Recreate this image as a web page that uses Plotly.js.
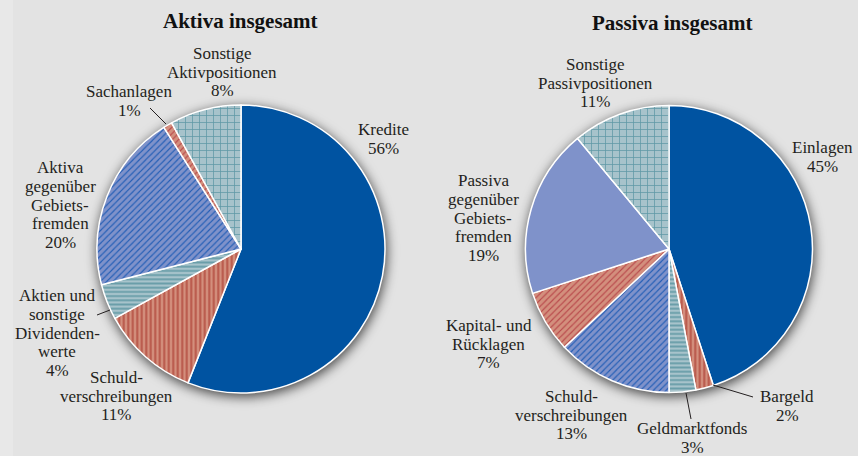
<!DOCTYPE html>
<html>
<head>
<meta charset="utf-8">
<script src="https://cdn.plot.ly/plotly-3.0.1.min.js"></script>
<style>
html,body{margin:0;padding:0;background:#e3e3e3;}
#chart{width:858px;height:456px;}
</style>
</head>
<body>
<svg width="0" height="0" style="position:absolute">
  <defs>
    <filter id="pieshadow" x="-25%" y="-25%" width="150%" height="150%" color-interpolation-filters="sRGB">
      <feGaussianBlur in="SourceAlpha" stdDeviation="6" result="blur"/>
      <feOffset in="blur" dx="1" dy="3" result="off"/>
      <feColorMatrix in="off" type="matrix" values="0 0 0 0 0  0 0 0 0 0  0 0 0 0 0  0 0 0 0.7 0" result="shadow"/>
      <feMerge><feMergeNode in="shadow"/><feMergeNode in="SourceGraphic"/></feMerge>
    </filter>
  </defs>
</svg>
<div id="chart"></div>
<script>
// ---- data ----
const aktivaLabels = ["Kredite", "Schuld-<br>verschreibungen", "Aktien und<br>sonstige<br>Dividenden-<br>werte", "Aktiva<br>gegenüber<br>Gebiets-<br>fremden", "Sachanlagen", "Sonstige<br>Aktivpositionen"];
const aktivaValues = [56, 11, 4, 20, 1, 8];
const passivaLabels = ["Einlagen", "Bargeld", "Geldmarktfonds", "Schuld-<br>verschreibungen", "Kapital- und<br>Rücklagen", "Passiva<br>gegenüber<br>Gebiets-<br>fremden", "Sonstige<br>Passivpositionen"];
const passivaValues = [45, 2, 3, 13, 7, 19, 11];
const titles = ["Aktiva insgesamt", "Passiva insgesamt"];

// ---- styles ----
const DARK = "#0053a1", PERI = "#7f92ca", SALMON = "#d38f7d", TEAL = "#a7c3cb";
const styleMap = {
  solid:   {bg: DARK,   fg: DARK,      shape: "",  size: 6,   sol: 0.3},
  vstripe: {bg: SALMON, fg: "#b8574a", shape: "|", size: 4.5, sol: 0.45},
  hstripe: {bg: TEAL,   fg: "#6a9ea9", shape: "-", size: 4.2, sol: 0.45},
  bdiag:   {bg: PERI,   fg: "#1f5cb5", shape: "/", size: 4.5, sol: 0.25},
  rdiag:   {bg: SALMON, fg: "#b8474a", shape: "/", size: 4.5, sol: 0.25},
  grid:    {bg: TEAL,   fg: "#5e98a5", shape: "+", size: 7,   sol: 0.2},
  peri:    {bg: PERI,   fg: PERI,      shape: "",  size: 6,   sol: 0.3}
};
const aktivaStyles = ["solid", "vstripe", "hstripe", "bdiag", "rdiag", "grid"];
const passivaStyles = ["solid", "vstripe", "hstripe", "bdiag", "rdiag", "peri", "grid"];

// label centers in pixels (layout only)
const aktivaLabelPos = [[383,139],[117,396],[57,333],[60,205],[129,101],[222,72]];
const passivaLabelPos = [[822,157],[787,406],[692,438],[571,415],[489,344],[483,218],[595,83]];
const leaderLines = [[[150,108],[166,124]], [[97,315],[110,310]], [[686,393],[691,419]], [[713,385],[753,397]]];

const W = 858, H = 456;
const px = x => x / W, py = y => 1 - y / H;
const SERIF = "Liberation Serif";
const LABEL_SIZE = 17, LINE_H = 18.6;

function pieTrace(labels, values, styles, domain) {
  const s = styles.map(k => styleMap[k]);
  return {
    type: "pie", labels: labels, values: values, sort: false,
    direction: "clockwise", rotation: 0, textinfo: "none", hoverinfo: "label+percent",
    domain: domain, showlegend: false,
    marker: {
      colors: s.map(o => o.bg),
      line: {color: "#ffffff", width: 1.5},
      pattern: {shape: s.map(o => o.shape), fgcolor: s.map(o => o.fg), bgcolor: s.map(o => o.bg),
                size: s.map(o => o.size), solidity: s.map(o => o.sol), fillmode: "replace"}
    }
  };
}

const data = [
  pieTrace(aktivaLabels, aktivaValues, aktivaStyles, {x: [px(97), px(385)], y: [py(393), py(105)]}),
  pieTrace(passivaLabels, passivaValues, passivaStyles, {x: [px(525.5), px(812.5)], y: [py(393), py(105)]})
];

const annotations = [];
function addLabels(labels, values, pos) {
  labels.forEach((l, i) => {
    const lines = (l + "<br>" + values[i] + "%").split("<br>");
    const n = lines.length;
    lines.forEach((t, j) => {
      const yc = pos[i][1] + (j - (n - 1) / 2) * LINE_H;
      annotations.push({text: t, x: px(pos[i][0]), y: py(yc),
        xref: "paper", yref: "paper", xanchor: "center", yanchor: "middle", showarrow: false,
        font: {family: SERIF, size: LABEL_SIZE, color: "#231f20"}});
    });
  });
}
addLabels(aktivaLabels, aktivaValues, aktivaLabelPos);
addLabels(passivaLabels, passivaValues, passivaLabelPos);
annotations.push({text: "<b>" + titles[0] + "</b>", x: px(240), y: py(21), xref: "paper", yref: "paper",
  showarrow: false, xanchor: "center", yanchor: "middle", font: {family: SERIF, size: 21, color: "#111"}});
annotations.push({text: "<b>" + titles[1] + "</b>", x: px(672), y: py(23), xref: "paper", yref: "paper",
  showarrow: false, xanchor: "center", yanchor: "middle", font: {family: SERIF, size: 21, color: "#111"}});

const shapes = [{type: "rect", xref: "paper", yref: "paper", x0: 0, x1: px(13), y0: 0, y1: 1,
  fillcolor: "#e8e8e8", line: {width: 0}, layer: "below"}];
leaderLines.forEach(l => shapes.push({type: "line", xref: "paper", yref: "paper",
  x0: px(l[0][0]), y0: py(l[0][1]), x1: px(l[1][0]), y1: py(l[1][1]), line: {color: "#231f20", width: 1}}));

const layout = {
  width: W, height: H, margin: {l: 0, r: 0, t: 0, b: 0},
  paper_bgcolor: "#e3e3e3", plot_bgcolor: "#e3e3e3",
  annotations: annotations, shapes: shapes, font: {family: SERIF, size: LABEL_SIZE, color: "#231f20"}
};
function applyShadow() {
  document.querySelectorAll("#chart .pielayer .trace").forEach(g => g.setAttribute("filter", "url(#pieshadow)"));
}
Plotly.newPlot("chart", data, layout, {displayModeBar: false, staticPlot: true}).then(applyShadow, applyShadow);
</script>
</body>
</html>
